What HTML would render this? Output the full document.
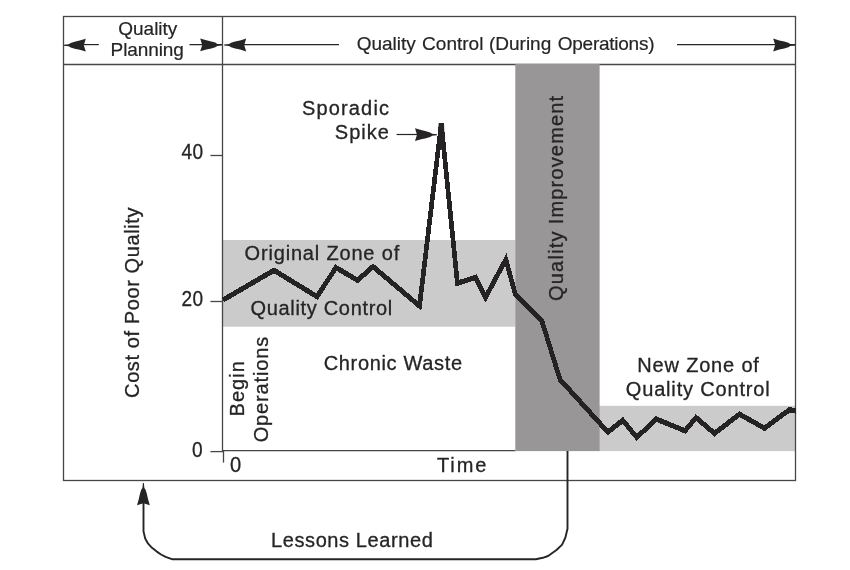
<!DOCTYPE html>
<html>
<head>
<meta charset="utf-8">
<title>Juran Trilogy</title>
<style>
html,body{margin:0;padding:0;background:#fff;}
body{width:850px;height:570px;overflow:hidden;}
svg{display:block;will-change:transform;filter:blur(0.4px);}
text{font-family:"Liberation Sans",sans-serif;fill:#262425;stroke:#262425;stroke-width:0.3;}
.b{font-size:20px;}
.n{font-size:21.2px;}
.h{font-size:19px;stroke-width:0.2;}
.ln{stroke:#484647;stroke-width:1.3;fill:none;}
.dk{stroke:#262425;stroke-width:1.5;fill:none;}
.th{stroke:#262425;stroke-width:1.2;fill:none;}
.ar{fill:#262425;stroke:none;}
</style>
</head>
<body>
<svg width="850" height="570" viewBox="0 0 850 570">
<rect x="0" y="0" width="850" height="570" fill="#ffffff"/>
<defs>
<path id="ah" d="M0.5 0.45 L-4.5 1.0 L-6.5 2.3 L-10.5 3.5 L-15.5 4.6 L-21.6 6.4 L-19.6 0 L-21.6 -6.4 L-15.5 -4.6 L-10.5 -3.5 L-6.5 -2.3 L-4.5 -1.0 L0.5 -0.45 Z" fill="#262425"/>
</defs>

<!-- light zones -->
<rect x="223" y="240" width="292.5" height="86.7" fill="#cbcbcb"/>
<rect x="599" y="405.8" width="196.3" height="45.3" fill="#cbcbcb"/>

<!-- frame -->
<rect class="ln" x="63.5" y="16.5" width="732" height="464"/>
<line class="ln" x1="63.5" y1="64.5" x2="795.5" y2="64.5"/>
<line class="ln" x1="222.5" y1="16.5" x2="222.5" y2="451"/>
<line class="ln" x1="222.5" y1="450.6" x2="515.5" y2="450.6"/>
<line class="ln" x1="223.5" y1="451" x2="223.5" y2="462.6"/>
<!-- ticks -->
<line class="ln" x1="210.4" y1="155.5" x2="222.5" y2="155.5"/>
<line class="ln" x1="210.4" y1="301.5" x2="222.5" y2="301.5"/>
<line class="ln" x1="210.4" y1="451.6" x2="223" y2="451.6"/>

<!-- dark band (drawn over header divider) -->
<rect x="515.3" y="63.9" width="84.3" height="387.2" fill="#989697"/>

<!-- header arrows -->
<line class="th" x1="84" y1="44.6" x2="98.8" y2="44.6"/>
<use href="#ah" transform="translate(64.2,45.2) rotate(180)"/>
<line class="th" x1="189.5" y1="44.6" x2="222" y2="44.6"/>
<use href="#ah" transform="translate(221.8,44.9)"/>
<line class="th" x1="244" y1="44.6" x2="339" y2="44.6"/>
<use href="#ah" transform="translate(224.6,45) rotate(180)"/>
<line class="th" x1="677" y1="44.6" x2="795" y2="44.6"/>
<use href="#ah" transform="translate(794.8,45)"/>

<!-- header text -->
<text class="h" x="147.8" y="34.5" text-anchor="middle" letter-spacing="0">Quality</text>
<text class="h" x="147.2" y="55.5" text-anchor="middle" letter-spacing="-0.1">Planning</text>
<text class="h" x="356.7" y="50.2">Quality <tspan dx="1">Control</tspan> <tspan dx="0.3">(During</tspan> <tspan dx="1.2" letter-spacing="-0.25">Operations)</tspan></text>

<!-- axis labels -->
<text class="n" transform="translate(203.7,159.3) scale(0.9,1)" text-anchor="end" letter-spacing="0.6">40</text>
<text class="n" transform="translate(203.7,305.6) scale(0.9,1)" text-anchor="end" letter-spacing="0.6">20</text>
<text class="n" transform="translate(202.6,456.8) scale(0.9,1)" text-anchor="end">0</text>
<text class="n" transform="translate(230.1,472) scale(0.95,1)">0</text>
<text class="b" x="437" y="472" letter-spacing="1.9">Time</text>
<text class="b" transform="translate(138.7,397.9) rotate(-90)" letter-spacing="0.6">Cost of Poor Quality</text>

<!-- labels -->
<text class="b" x="302" y="114.7" letter-spacing="1.15">Sporadic</text>
<text class="b" x="334.8" y="139.2" letter-spacing="1">Spike</text>
<text class="b" x="244.6" y="260" letter-spacing="0.82">Original Zone of</text>
<text class="b" x="250.5" y="314.5" letter-spacing="0.68">Quality Control</text>
<text class="b" x="323.7" y="370.2" letter-spacing="0.66">Chronic Waste</text>
<text class="b" x="637.3" y="371.7" letter-spacing="0.82">New Zone of</text>
<text class="b" x="625.8" y="396.1" letter-spacing="0.83">Quality Control</text>
<text class="b" x="271" y="547.3" letter-spacing="0.6">Lessons Learned</text>
<text class="b" transform="translate(243.6,416.4) rotate(-90)" letter-spacing="1.0">Begin</text>
<text class="b" transform="translate(268.2,442.3) rotate(-90)" letter-spacing="0.85">Operations</text>
<text class="b" transform="translate(562.6,301) rotate(-90)" letter-spacing="1.22">Quality</text>
<text class="b" transform="translate(562.6,224.3) rotate(-90)" letter-spacing="1.17">Improvement</text>

<!-- spike arrow -->
<line class="th" x1="396.6" y1="134.5" x2="418" y2="134.5"/>
<use href="#ah" transform="translate(436.6,134.7)"/>

<!-- data line -->
<g transform="scale(1,1.1)"><polyline shape-rendering="crispEdges" fill="none" stroke="#242223" stroke-width="4.7" stroke-linejoin="miter" stroke-linecap="butt"
 points="223,272.73 274,245.73 317,269.64 336,243.27 357.6,254.82 373,242.36 419.5,278.18 441.3,112.45 457.4,257.45 475.5,252.18 485.5,270.36 505.8,235.91 515.3,267.45 542,292.09 560,345.00 607.9,392.82 622.8,382.09 636.8,397.64 656.2,380.91 685,391.64 696,379.64 714.5,394.00 739.5,376.55 764.5,389.27 789.5,372.45 796,373.64"/></g>
<path class="ar" d="M438.6 123.3 L444 123.3 L444.6 140 L441.6 150 L440.8 150 L438 140 Z"/>

<!-- lessons learned arrow -->
<path class="dk" style="stroke-width:1.9;stroke-linejoin:round" d="M567.5 451 L567.5 528.8 L565.4 537.5 L562.1 544.6 L556.8 549.8 L548.1 556 L542.8 557.8 L535.8 559.2 L172.6 559.3 L165.6 556.8 L161 554.5 L156.8 551.6 L152 547.8 L148.1 543.7 L145.2 538.5 L143.5 531.4 L143.5 500"/>
<use href="#ah" transform="translate(143.4,483.6) rotate(-90)"/>
</svg>
</body>
</html>
